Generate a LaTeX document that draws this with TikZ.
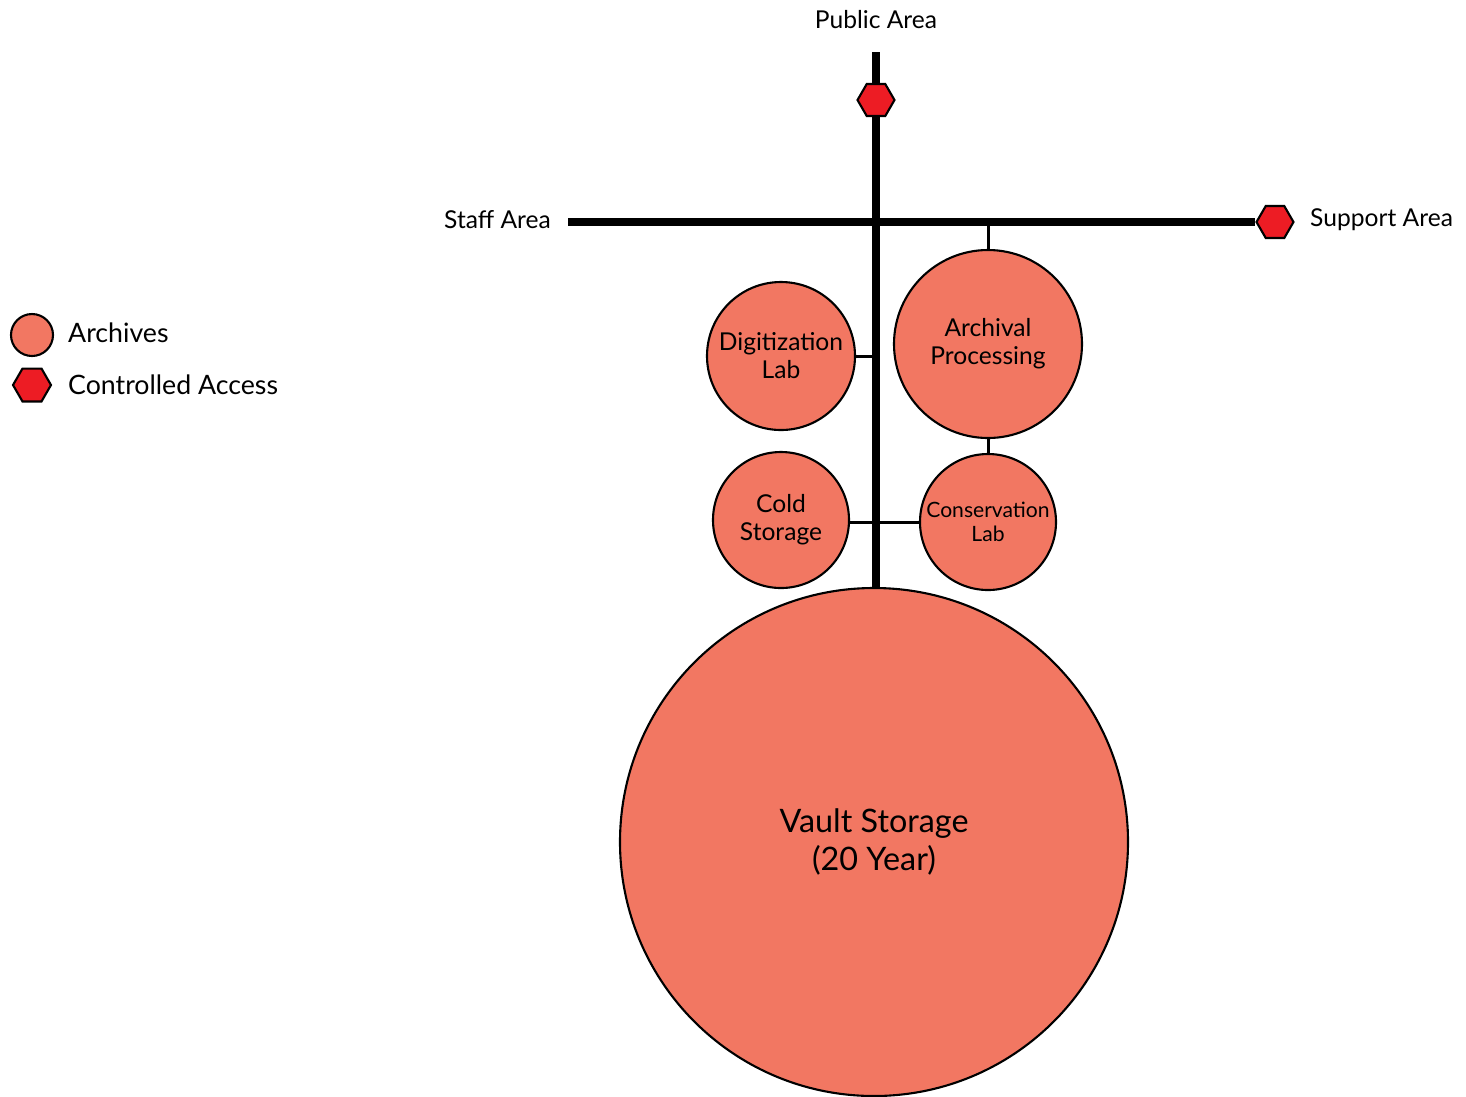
\documentclass[tikz,border=0pt]{standalone}
\usepackage{fontspec}
\setmainfont{Lato}
\usetikzlibrary{shapes.geometric,positioning}
\definecolor{archive}{RGB}{242,119,98}
\definecolor{access}{RGB}{237,28,36}
\tikzset{
  room/.style={circle, draw=black, line width=0.6pt, fill=archive, inner sep=0pt, align=center, font=\fontsize{7}{8}\selectfont},
  gate/.style={regular polygon, regular polygon sides=6, draw=black, line width=0.6pt, fill=access, inner sep=0pt, minimum size=0.37cm},
  spine/.style={line width=2.3pt},
  link/.style={line width=0.85pt},
  lbl/.style={font=\fontsize{7}{8}\selectfont, inner sep=1pt}
}
\begin{document}
\begin{tikzpicture}
\useasboundingbox (0,0) rectangle (14.66,-10.96);

% Rooms
\node[room, minimum size=5.08cm, font=\fontsize{9.2}{10.6}\selectfont] (vault) at (8.74,-8.42) {Vault Storage\\(20 Year)};
\node[room, minimum size=1.88cm] (archproc) at (9.88,-3.44) {Archival\\Processing};
\node[room, minimum size=1.48cm] (digilab) at (7.81,-3.56) {Digitization\\Lab};
\node[room, minimum size=1.36cm] (cold) at (7.81,-5.20) {Cold\\Storage};
\node[room, minimum size=1.36cm, font=\fontsize{6}{7}\selectfont] (conslab) at (9.88,-5.22) {Conservation\\Lab};

% Main corridors
\coordinate (top) at (8.76,-0.52);
\coordinate (staff) at (5.68,-2.22);
\coordinate (cross) at (8.76,-2.22);
\node[gate] (publicgate) at (8.76,-1.00) {};
\node[gate] (supportgate) at (12.75,-2.22) {};
\draw[spine] (top) -- (publicgate.north);
\draw[spine] (publicgate.south) -- (vault.north -| cross);
\draw[spine] (staff) -- (supportgate.west);

% Branches
\draw[link] (archproc.north) -- (archproc.north |- cross);
\draw[link] (digilab.east) -- (digilab.east -| cross);
\draw[link] (archproc.south) -- (conslab.north);
\draw[link] (cold.east |- conslab.west) -- (conslab.west);

% Area labels
\node[lbl] (publiclbl) at (8.76,-0.20) {Public Area};
\node[lbl, anchor=east] (stafflbl) at (5.55,-2.20) {Staff Area};
\node[lbl, anchor=west] (supportlbl) at (13.06,-2.20) {Support Area};

% Legend
\node[room, minimum size=0.42cm] (keyroom) at (0.32,-3.35) {};
\node[gate, minimum size=0.38cm] (keygate) at (0.32,-3.85) {};
\node[lbl, anchor=west, font=\fontsize{7.6}{9}\selectfont] (keyroomlbl) at (0.64,-3.33) {Archives};
\node[lbl, anchor=west, font=\fontsize{7.6}{9}\selectfont] (keygatelbl) at (0.64,-3.85) {Controlled Access};
\end{tikzpicture}
\end{document}
